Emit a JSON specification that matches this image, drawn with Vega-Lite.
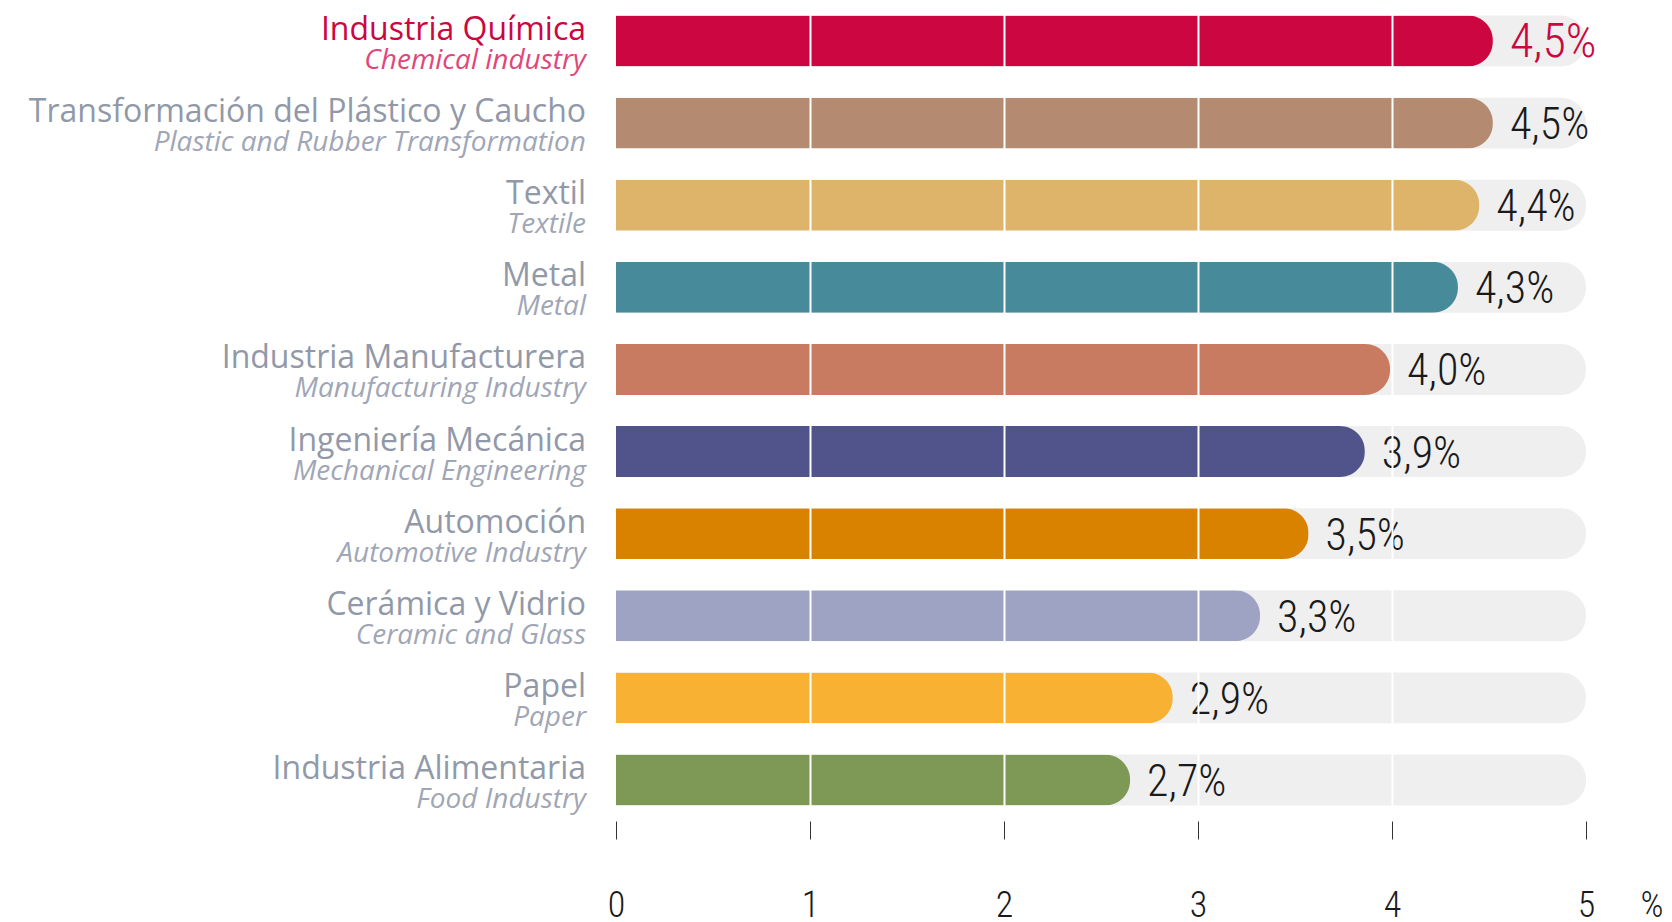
{
  "$schema": "https://vega.github.io/schema/vega-lite/v6.json",
  "width": 970,
  "height": 821,
  "autosize": {"type": "none"},
  "padding": {"left": 616, "top": 0, "right": 86, "bottom": 101},
  "background": "white",
  "config": {"view": {"stroke": null}},
  "data": {
    "values": [
      {"es": "Industria Química", "en": "Chemical industry", "value": 4.52, "label": "4,5%"},
      {"es": "Transformación del Plástico y Caucho", "en": "Plastic and Rubber Transformation", "value": 4.52, "label": "4,5%"},
      {"es": "Textil", "en": "Textile", "value": 4.45, "label": "4,4%"},
      {"es": "Metal", "en": "Metal", "value": 4.34, "label": "4,3%"},
      {"es": "Industria Manufacturera", "en": "Manufacturing Industry", "value": 3.99, "label": "4,0%"},
      {"es": "Ingeniería Mecánica", "en": "Mechanical Engineering", "value": 3.86, "label": "3,9%"},
      {"es": "Automoción", "en": "Automotive Industry", "value": 3.57, "label": "3,5%"},
      {"es": "Cerámica y Vidrio", "en": "Ceramic and Glass", "value": 3.32, "label": "3,3%"},
      {"es": "Papel", "en": "Paper", "value": 2.87, "label": "2,9%"},
      {"es": "Industria Alimentaria", "en": "Food Industry", "value": 2.65, "label": "2,7%"}
    ]
  },
  "encoding": {
    "y": {
      "field": "es",
      "type": "nominal",
      "sort": null,
      "axis": null,
      "scale": {"paddingInner": 0.38, "paddingOuter": 0.19}
    }
  },
  "layer": [
    {
      "mark": {"type": "bar", "color": "#efefef", "cornerRadiusEnd": 25},
      "encoding": {
        "x": {
          "datum": 5,
          "type": "quantitative",
          "scale": {"domain": [0, 5], "nice": false},
          "axis": {
            "values": [0, 1, 2, 3, 4, 5],
            "format": "d",
            "domain": false,
            "grid": true,
            "gridColor": "white",
            "gridWidth": 2,
            "gridOpacity": {"condition": {"test": "datum.value == 0 || datum.value == 5", "value": 0}, "value": 1},
            "zindex": 1,
            "ticks": true,
            "tickSize": 18,
            "tickColor": "#333333",
            "tickWidth": 1,
            "labelFont": "Roboto Condensed, Roboto",
            "labelFontSize": 36,
            "labelFontWeight": 300,
            "labelColor": "#1a1a1a",
            "labelBaseline": "alphabetic",
            "labelPadding": 77,
            "labelFlush": false,
            "title": "%",
            "titleFont": "Roboto Condensed, Roboto",
            "titleFontSize": 36,
            "titleFontWeight": 300,
            "titleColor": "#1a1a1a",
            "titleAnchor": null,
            "titleX": 1024,
            "titleY": 95,
            "titleAlign": "left",
            "titleBaseline": "alphabetic"
          }
        }
      }
    },
    {
      "mark": {"type": "bar", "cornerRadiusEnd": 25},
      "encoding": {
        "x": {"field": "value", "type": "quantitative"},
        "color": {
          "field": "es",
          "type": "nominal",
          "legend": null,
          "scale": {
            "domain": ["Industria Química", "Transformación del Plástico y Caucho", "Textil", "Metal", "Industria Manufacturera", "Ingeniería Mecánica", "Automoción", "Cerámica y Vidrio", "Papel", "Industria Alimentaria"],
            "range": ["#cc0641", "#b48a70", "#ddb469", "#478b9a", "#c87b60", "#51548b", "#d88200", "#9fa3c3", "#f8b133", "#7e9955"]
          }
        }
      }
    },
    {
      "mark": {"type": "text", "align": "left", "baseline": "alphabetic", "dx": 17, "dy": 16, "font": "Roboto Condensed, Roboto", "fontWeight": 300},
      "encoding": {
        "x": {"field": "value", "type": "quantitative"},
        "text": {"field": "label"},
        "color": {"condition": {"test": "datum.es == 'Industria Química'", "value": "#cc0641"}, "value": "#1a1a1a"},
        "size": {"condition": {"test": "datum.es == 'Industria Química'", "value": 48}, "value": 44}
      }
    },
    {
      "mark": {"type": "text", "align": "right", "baseline": "alphabetic", "dx": -30, "dy": -1, "font": "Open Sans", "fontSize": 32},
      "encoding": {
        "x": {"datum": 0, "type": "quantitative"},
        "text": {"field": "es"},
        "color": {"condition": {"test": "datum.es == 'Industria Química'", "value": "#cc0641"}, "value": "#9199a8"}
      }
    },
    {
      "mark": {"type": "text", "align": "right", "baseline": "alphabetic", "dx": -30, "dy": 28, "font": "Open Sans", "fontSize": 28, "fontStyle": "italic"},
      "encoding": {
        "x": {"datum": 0, "type": "quantitative"},
        "text": {"field": "en"},
        "color": {"condition": {"test": "datum.es == 'Industria Química'", "value": "#e0467a"}, "value": "#a0a6b6"},
        "fontWeight": {"condition": {"test": "datum.es == 'Industria Química'", "value": "bold"}, "value": "normal"}
      }
    }
  ]
}
